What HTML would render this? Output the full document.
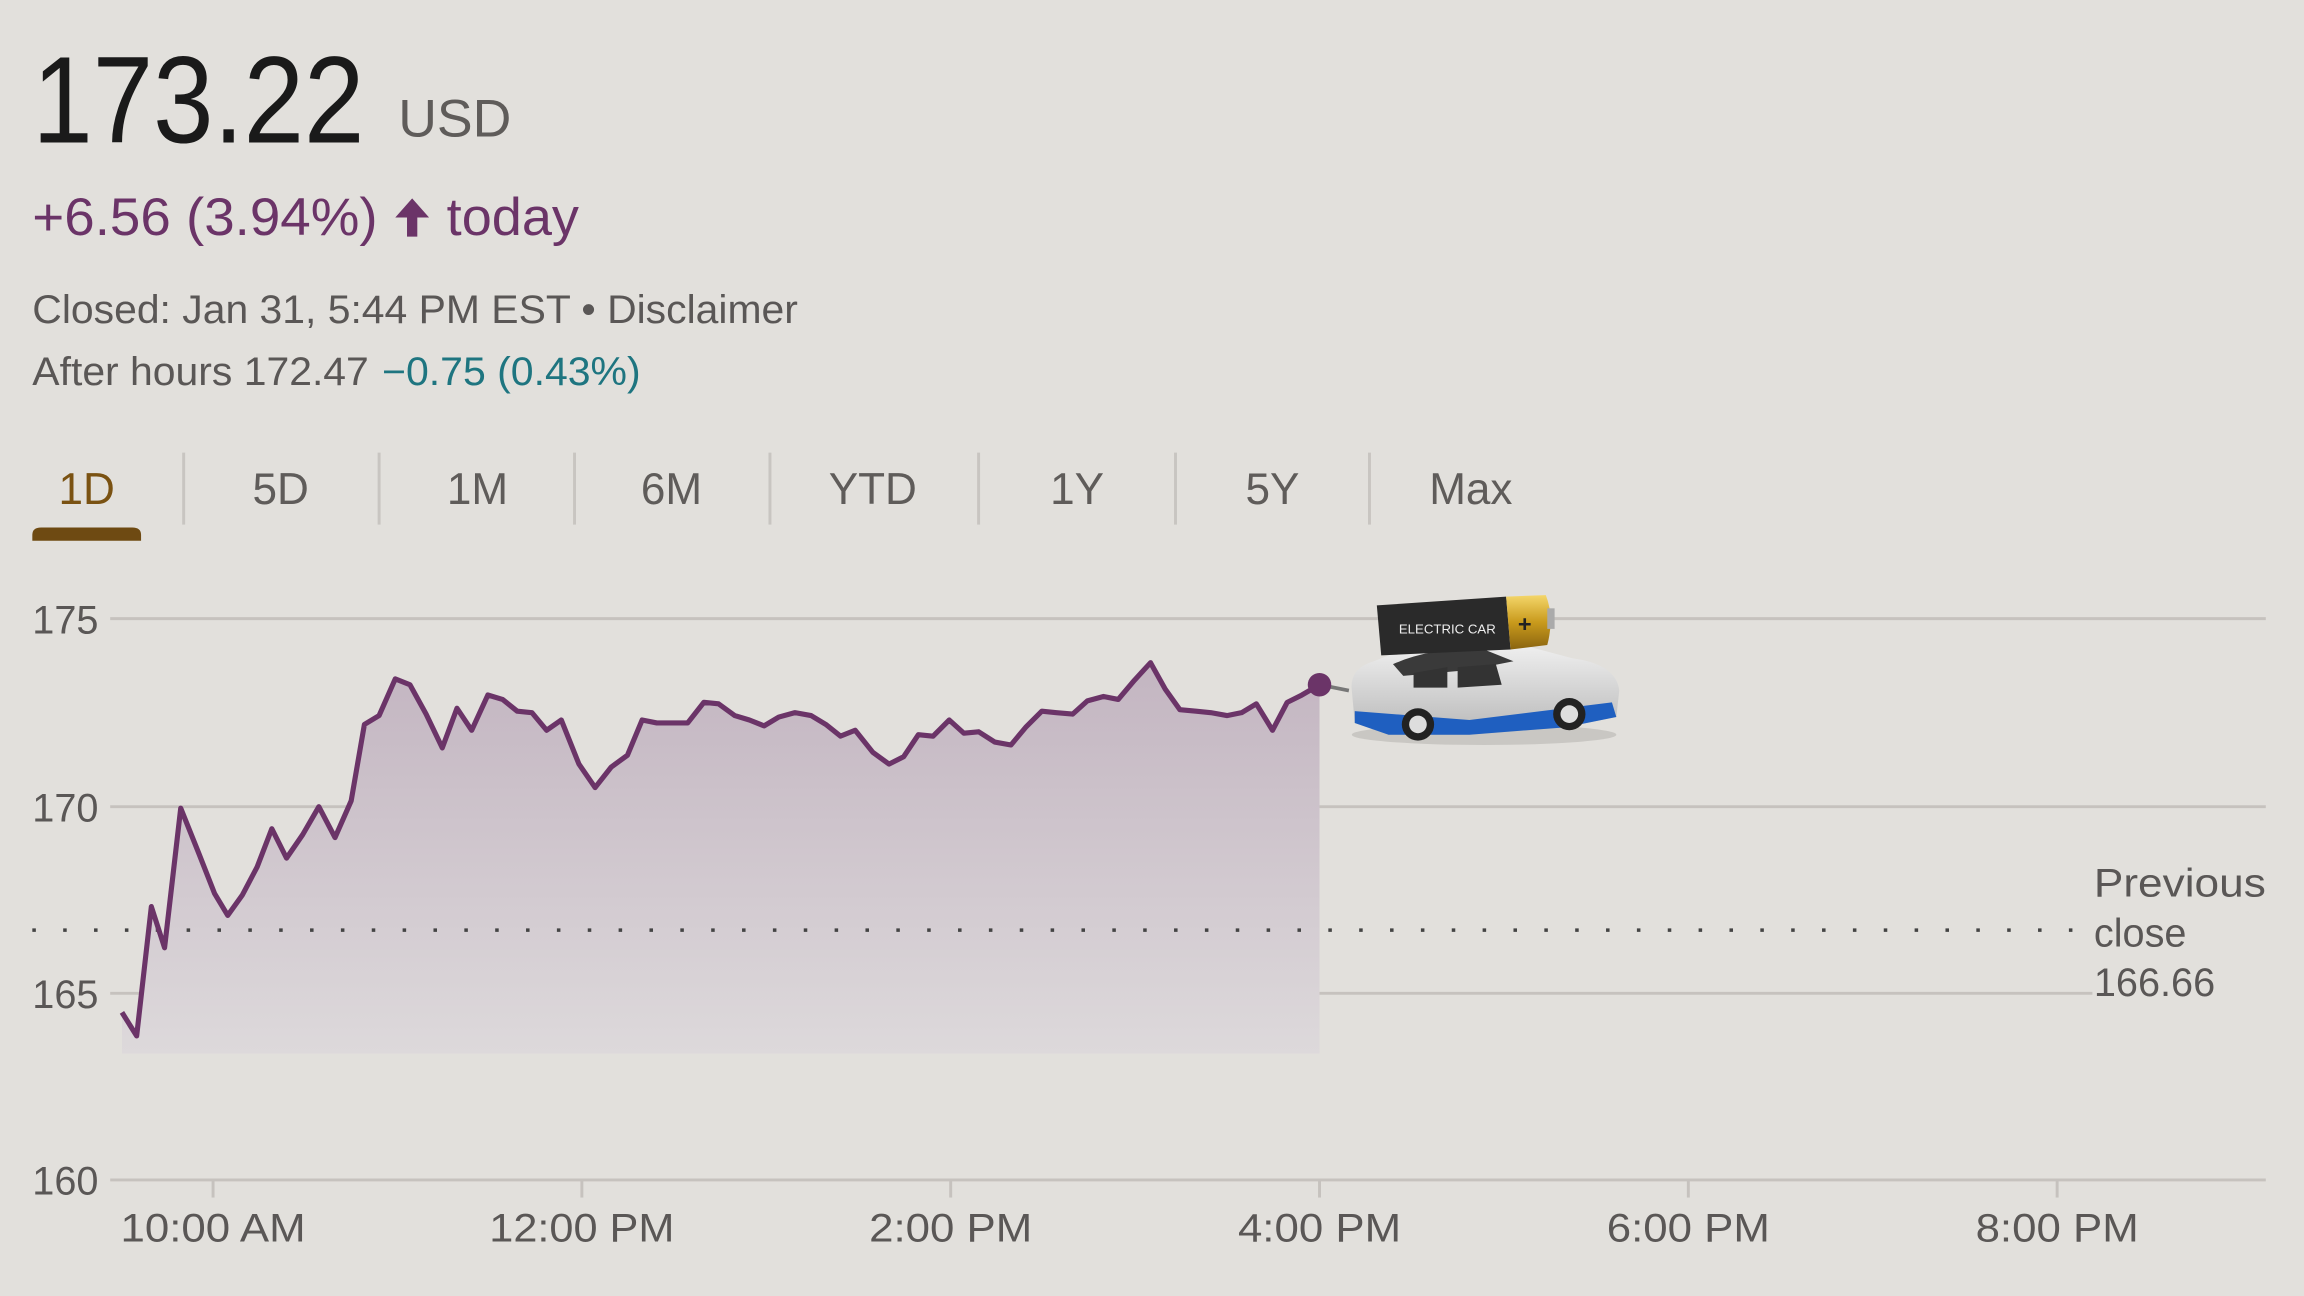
<!DOCTYPE html>
<html><head><meta charset="utf-8"><style>
html,body{margin:0;padding:0;background:#e2e0dc;}
svg{display:block;}
text{font-family:"Liberation Sans",Arial,sans-serif;}
</style></head><body>
<svg width="2304" height="1296" viewBox="0 0 1568 882" xmlns="http://www.w3.org/2000/svg">
<defs>
<linearGradient id="fg" x1="0" y1="0" x2="0" y2="1">
<stop offset="0" stop-color="#c3b5c1"/>
<stop offset="1" stop-color="#ddd9db"/>
</linearGradient>
<linearGradient id="gold" x1="0" y1="0" x2="0" y2="1">
<stop offset="0" stop-color="#f4d66a"/><stop offset="0.5" stop-color="#c99a1c"/><stop offset="1" stop-color="#8a6410"/>
</linearGradient>
<linearGradient id="body" x1="0" y1="0" x2="0" y2="1">
<stop offset="0" stop-color="#f2f2f2"/><stop offset="1" stop-color="#b8b8b8"/>
</linearGradient>
</defs>
<rect width="1568" height="882" fill="#e2e0dc"/>

<text x="22" y="97" font-size="84" fill="#1a1a1a" textLength="226" lengthAdjust="spacingAndGlyphs">173.22</text>
<text x="271" y="93" font-size="36" fill="#5f5c5a" textLength="77" lengthAdjust="spacingAndGlyphs">USD</text>
<text x="22" y="160" font-size="36" fill="#6b3468" textLength="235" lengthAdjust="spacingAndGlyphs">+6.56 (3.94%)</text>
<path d="M280.5 135 L269 148 L277 148 L277 161 L284 161 L284 148 L292 148 Z" fill="#6b3468"/>
<text x="304" y="160" font-size="36" fill="#6b3468" textLength="90" lengthAdjust="spacingAndGlyphs">today</text>
<text x="22" y="220" font-size="27" fill="#5a5756" textLength="521" lengthAdjust="spacingAndGlyphs">Closed: Jan 31, 5:44 PM EST • Disclaimer</text>
<text x="22" y="262" font-size="27" fill="#5a5756" textLength="229" lengthAdjust="spacingAndGlyphs">After hours 172.47</text>
<text x="260" y="262" font-size="27" fill="#1e7580" textLength="176" lengthAdjust="spacingAndGlyphs">−0.75 (0.43%)</text>

<g font-size="30" text-anchor="middle" fill="#5f5c5a">
<text x="59" y="343" fill="#7a5212">1D</text>
<text x="191" y="343">5D</text>
<text x="325" y="343">1M</text>
<text x="457" y="343">6M</text>
<text x="594" y="343">YTD</text>
<text x="733" y="343">1Y</text>
<text x="866" y="343">5Y</text>
<text x="1001" y="343">Max</text>
</g>
<path d="M22 368 L22 364 Q22 359 28 359 L90 359 Q96 359 96 364 L96 368 Z" fill="#6e4a12"/>
<g stroke="#c8c5c1" stroke-width="2">
<line x1="125" y1="308" x2="125" y2="357"/><line x1="258" y1="308" x2="258" y2="357"/>
<line x1="391" y1="308" x2="391" y2="357"/><line x1="524" y1="308" x2="524" y2="357"/>
<line x1="666" y1="308" x2="666" y2="357"/><line x1="800" y1="308" x2="800" y2="357"/>
<line x1="932" y1="308" x2="932" y2="357"/>
</g>

<g stroke="#c6c2be" stroke-width="2">
<line x1="75" y1="421" x2="1542" y2="421"/>
<line x1="75" y1="549" x2="1542" y2="549"/>
<line x1="75" y1="676" x2="1424" y2="676"/>
<line x1="75" y1="803" x2="1542" y2="803"/>
<line x1="145" y1="803" x2="145" y2="815"/><line x1="396" y1="803" x2="396" y2="815"/>
<line x1="647" y1="803" x2="647" y2="815"/><line x1="898" y1="803" x2="898" y2="815"/>
<line x1="1149" y1="803" x2="1149" y2="815"/><line x1="1400" y1="803" x2="1400" y2="815"/>
</g>
<g font-size="27" fill="#5a5756">
<text x="22" y="431">175</text><text x="22" y="559">170</text>
<text x="22" y="686">165</text><text x="22" y="813">160</text>
</g>
<g font-size="27" fill="#5a5756" text-anchor="middle">
<text x="145" y="845" textLength="126" lengthAdjust="spacingAndGlyphs">10:00 AM</text><text x="396" y="845" textLength="126" lengthAdjust="spacingAndGlyphs">12:00 PM</text>
<text x="647" y="845" textLength="111" lengthAdjust="spacingAndGlyphs">2:00 PM</text><text x="898" y="845" textLength="111" lengthAdjust="spacingAndGlyphs">4:00 PM</text>
<text x="1149" y="845" textLength="111" lengthAdjust="spacingAndGlyphs">6:00 PM</text><text x="1400" y="845" textLength="111" lengthAdjust="spacingAndGlyphs">8:00 PM</text>
</g>
<g font-size="27" fill="#5a5756">
<text x="1425" y="610" textLength="117" lengthAdjust="spacingAndGlyphs">Previous</text><text x="1425" y="644">close</text><text x="1425" y="678">166.66</text>
</g>

<path fill="url(#fg)" d="M83,689 L93,705 L103,617 L112,645 L123,550 L135,580 L146,608 L155,623 L165,609 L175,590 L185,564 L195,584 L206,568 L217,549 L228,570 L239,545 L248,493 L258,487 L269,462 L279,466 L290,486 L301,509 L311,482 L321,497 L332,473 L342,476 L352,484 L362,485 L372,497 L382,490 L394,520 L405,536 L416,522 L427,514 L437,490 L447,492 L457,492 L468,492 L479,478 L489,479 L500,487 L510,490 L520,494 L530,488 L541,485 L552,487 L562,493 L572,501 L582,497 L594,512 L605,520 L615,515 L625,500 L635,501 L646,490 L656,499 L666,498 L677,505 L688,507 L698,495 L709,484 L719,485 L730,486 L740,477 L751,474 L761,476 L772,463 L783,451 L793,469 L803,483 L814,484 L824,485 L835,487 L845,485 L855,479 L866,497 L876,478 L886,473 L898,466 L898,717 L83,717 Z"/>
<line x1="22" y1="633" x2="1415" y2="633" stroke="#444" stroke-width="2.4" stroke-dasharray="2.4 18.6"/>
<path fill="none" stroke="#6b3468" stroke-width="3.5" stroke-linejoin="round" d="M83,689 L93,705 L103,617 L112,645 L123,550 L135,580 L146,608 L155,623 L165,609 L175,590 L185,564 L195,584 L206,568 L217,549 L228,570 L239,545 L248,493 L258,487 L269,462 L279,466 L290,486 L301,509 L311,482 L321,497 L332,473 L342,476 L352,484 L362,485 L372,497 L382,490 L394,520 L405,536 L416,522 L427,514 L437,490 L447,492 L457,492 L468,492 L479,478 L489,479 L500,487 L510,490 L520,494 L530,488 L541,485 L552,487 L562,493 L572,501 L582,497 L594,512 L605,520 L615,515 L625,500 L635,501 L646,490 L656,499 L666,498 L677,505 L688,507 L698,495 L709,484 L719,485 L730,486 L740,477 L751,474 L761,476 L772,463 L783,451 L793,469 L803,483 L814,484 L824,485 L835,487 L845,485 L855,479 L866,497 L876,478 L886,473 L898,466"/>
<line x1="898" y1="466" x2="918" y2="470" stroke="#777" stroke-width="2.5"/>
<circle cx="898" cy="466" r="8" fill="#6b3468"/>

<!-- car -->
<g>
<ellipse cx="1010" cy="500" rx="90" ry="7" fill="#c9c7c3"/>
<path d="M920 470 Q918 455 935 450 L960 440 Q1000 432 1040 440 L1070 448 Q1100 452 1102 470 L1100 488 L1065 495 L1000 500 L945 500 L922 492 Z" fill="url(#body)"/>
<path d="M948 452 Q975 440 1010 442 L1030 450 L1000 456 L955 460 Z" fill="#3a3a3a"/>
<path d="M962 458 L985 454 L985 468 L962 468 Z M992 454 L1018 452 L1022 466 L992 468 Z" fill="#333"/>
<path d="M922 484 L1000 490 L1097 478 L1100 488 L1065 495 L1000 500 L945 500 L922 492 Z" fill="#1f5fc0"/>
<circle cx="965" cy="493" r="11" fill="#222"/><circle cx="965" cy="493" r="6" fill="#ddd"/>
<circle cx="1068" cy="486" r="11" fill="#222"/><circle cx="1068" cy="486" r="6" fill="#ddd"/>
<path d="M937 412 L1025 406 L1028 442 L940 446 Z" fill="#2a2a2a"/>
<path d="M1025 406 L1052 405 Q1058 420 1053 439 L1028 442 Z" fill="url(#gold)"/>
<rect x="1053" y="414" width="5" height="14" fill="#aaa"/>
<text x="952" y="431" font-size="9" fill="#eee">ELECTRIC CAR</text>
<text x="1033" y="430" font-size="16" fill="#222" font-weight="bold">+</text>
</g>
</svg>
</body></html>
